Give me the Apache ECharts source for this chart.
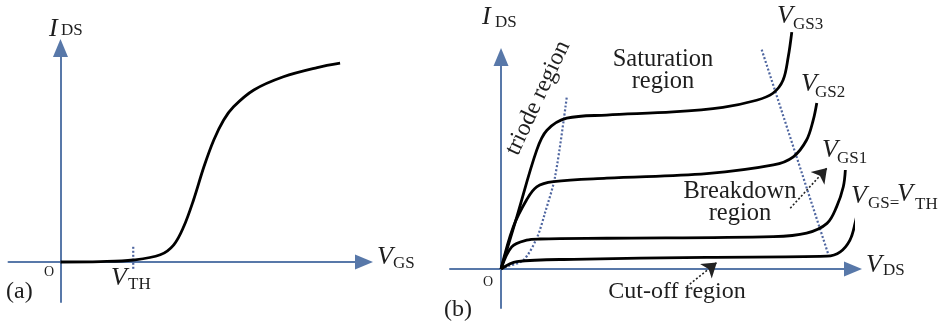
<!DOCTYPE html>
<html>
<head>
<meta charset="utf-8">
<script src="https://cdn.jsdelivr.net/npm/echarts@6/dist/echarts.min.js"></script>
<style>
html,body{margin:0;padding:0;background:#fff;}
#chart{width:948px;height:325px;}
</style>
</head>
<body>
<div id="chart"></div>
<script>
// ---- data (arbitrary units) ----
// panel (a): transfer characteristic I_DS vs V_GS
const transferCurve = [[0,0],[0.77,0.01],[1.40,0.05],[1.92,0.18],[2.18,0.43],[2.37,0.88],[2.56,1.55],[2.76,2.38],[2.95,3.05],[3.14,3.55],[3.33,3.88],[3.72,4.30],[4.29,4.63],[4.94,4.86],[5.38,4.97]];
const vthMarker = [[1.40,0.38],[1.40,-0.22]];
// panel (b): output characteristics I_DS vs V_DS
const vgs3Curve = [[0,0],[0.31,1.34],[0.70,3.05],[0.90,3.56],[1.29,3.87],[2.07,3.95],[3.37,4.03],[4.35,4.15],[5.01,4.33],[5.33,4.51],[5.53,4.85],[5.63,5.44],[5.70,6.08]];
const vgs2Curve = [[0,0],[0.24,1.08],[0.50,1.77],[0.70,2.11],[1.03,2.24],[2.07,2.33],[4.03,2.45],[5.34,2.67],[5.73,2.88],[5.99,3.31],[6.12,3.82],[6.19,4.26]];
const vgs1Curve = [[0,0],[0.21,0.57],[0.50,0.74],[0.76,0.77],[2.07,0.79],[5.34,0.83],[5.99,0.92],[6.39,1.17],[6.58,1.60],[6.71,2.11],[6.75,2.54]];
const vgsThCurve = [[0,0],[0.31,0.19],[1.42,0.25],[4.03,0.30],[6.39,0.33],[6.65,0.44],[6.84,0.74],[6.94,1.17],[7.01,1.64]];
const triodeEdge = [[0,0],[0.11,0.06],[0.44,0.23],[0.70,0.79],[0.86,1.43],[1.06,2.37],[1.29,4.42]];
const breakdownEdge = [[5.11,5.63],[6.42,0.36]];
const breakdownArrow = [[5.67,1.56],[6.39,2.59]];
const cutoffArrow = [[3.64,-0.45],[4.23,0.17]];

const AXIS = '#5878a9';
const DOT = '#4f66a0';
const INK = '#1e1e1e';
const SERIF = '"Liberation Serif", "DejaVu Serif", serif';

function axis(min, max, gridIndex) {
  return {
    type: 'value', gridIndex, min, max,
    axisLine: {show: true, onZero: true, symbol: ['none', 'triangle'], symbolSize: [15, 18],
      lineStyle: {color: AXIS, width: 2}},
    axisTick: {show: false}, axisLabel: {show: false}, splitLine: {show: false}
  };
}
function curve(data, xi) {
  return {type: 'line', xAxisIndex: xi, yAxisIndex: xi, data, showSymbol: false, clip: false,
    smooth: 0.35, lineStyle: {color: '#000', width: 2.8}, silent: true};
}
function dotted(data, xi, smooth) {
  return {type: 'line', xAxisIndex: xi, yAxisIndex: xi, data, showSymbol: false, clip: false,
    smooth: smooth, lineStyle: {color: DOT, width: 2.2, type: [2, 2]}, silent: true, z: 1};
}
function arrow(coords) {
  return {type: 'lines', coordinateSystem: 'cartesian2d', xAxisIndex: 1, yAxisIndex: 1,
    symbol: ['none', 'arrow'], symbolSize: 14, silent: true,
    lineStyle: {color: '#222', width: 1.6, type: [2, 2], opacity: 1},
    data: [{coords}]};
}
function txt(x, y, text, size, italic, align) {
  return {type: 'text', x, y, silent: true, style: {text, fill: INK, fontFamily: SERIF,
    fontSize: size, fontStyle: italic ? 'italic' : 'normal', align: align || 'left', verticalAlign: 'middle'}};
}

const chart = echarts.init(document.getElementById('chart'));
chart.setOption({
  animation: false,
  backgroundColor: '#fff',
  grid: [
    {left: 8.5, right: 584, top: 48, bottom: 23},
    {left: 450, right: 95, top: 57, bottom: 17}
  ],
  xAxis: [axis(-1, 5.84, 0), axis(-1, 6.9, 1)],
  yAxis: [axis(-1, 5.35, 0), axis(-1, 5.44, 1)],
  series: [
    curve(transferCurve, 0),
    dotted(vthMarker, 0, false),
    dotted(triodeEdge, 1, 0.3),
    dotted(breakdownEdge, 1, false),
    curve(vgs3Curve, 1),
    curve(vgs2Curve, 1),
    curve(vgs1Curve, 1),
    curve(vgsThCurve, 1),
    arrow(breakdownArrow),
    arrow(cutoffArrow)
  ],
  graphic: [
    // panel (a)
    txt(49, 29, 'I', 26, true), txt(61, 30.5, 'DS', 17),
    txt(49, 272, 'O', 14, false, 'center'),
    txt(111, 278, 'V', 26, true), txt(128, 285, 'TH', 17),
    txt(377, 257, 'V', 26, true), txt(393, 264, 'GS', 17),
    txt(6, 292, '(a)', 24),
    // panel (b)
    txt(482, 17, 'I', 26, true), txt(495, 22.5, 'DS', 17),
    txt(488, 282, 'O', 14, false, 'center'),
    txt(444, 310, '(b)', 24),
    txt(866, 265, 'V', 26, true), txt(883, 271, 'DS', 17),
    txt(777, 16, 'V', 26, true), txt(793, 24.5, 'GS3', 17),
    txt(801, 84, 'V', 26, true), txt(815, 92.5, 'GS2', 17),
    txt(822, 150, 'V', 26, true), txt(837, 158.5, 'GS1', 17),
    txt(851, 196, 'V', 26, true), txt(868, 203.5, 'GS=', 17),
    txt(897, 194, 'V', 26, true), txt(915, 204.5, 'TH', 17),
    {type: 'text', x: 663, y: 71, silent: true, style: {text: 'Saturation\nregion', fill: INK, fontFamily: SERIF,
      fontSize: 24.5, lineHeight: 22, align: 'center', verticalAlign: 'middle'}},
    {type: 'text', x: 740, y: 203, silent: true, style: {text: 'Breakdown\nregion', fill: INK, fontFamily: SERIF,
      fontSize: 24.5, lineHeight: 22, align: 'center', verticalAlign: 'middle'}},
    txt(677, 292, 'Cut-off region', 24, false, 'center'),
    {type: 'text', x: 538, y: 98, rotation: 65 * Math.PI / 180, silent: true, style: {text: 'triode region',
      fill: INK, fontFamily: SERIF, fontSize: 24, align: 'center', verticalAlign: 'middle'}}
  ]
});
</script>
</body>
</html>
